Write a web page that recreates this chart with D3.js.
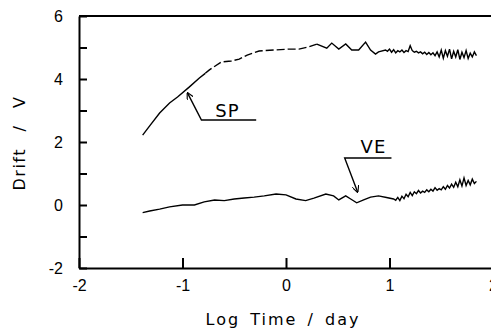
<!DOCTYPE html>
<html>
<head>
<meta charset="utf-8">
<script src="https://cdn.jsdelivr.net/npm/d3@7"></script>
<style>
  body { margin: 0; background: #fff; }
  svg { display: block; font-family: "DejaVu Sans", sans-serif; }
  .axis path, .axis line { stroke: #000; stroke-width: 2; }
  .axis text { font-size: 16px; fill: #000; }
</style>
</head>
<body>
<svg id="chart"></svg>
<script>
var width = 491, height = 329;
var margin = {top: 16, right: -2, bottom: 61, left: 79};

// axis tick values / labels
var xTicks = [-2, -1, 0, 1, 2];
var yTicks = [-2, -1, 0, 1, 2, 3, 4, 5, 6];
var yLabels = [-2, 0, 2, 4, 6];

// SP curve  [log time, drift]
var spSmooth = [[-1.385,2.22],[-1.317,2.51],[-1.221,2.92],[-1.125,3.24],[-1.048,3.43],
  [-0.933,3.75],[-0.837,4.03],[-0.78,4.18]];
var spDashed = [[-0.78,4.18],[-0.74,4.29],[-0.625,4.54],[-0.529,4.57],[-0.452,4.63],[-0.375,4.76],
  [-0.26,4.89],[-0.115,4.92],[0.029,4.95],[0.125,4.95],[0.221,5.02],[0.298,5.11]];
var spNoisy = [[0.298,5.11],[0.394,4.98],[0.442,5.14],[0.51,4.95],[0.577,5.11],[0.635,4.92],
  [0.702,4.92],[0.769,5.17],[0.817,4.92],[0.865,4.79],[0.894,4.86],[0.962,4.92],
  [0.98,4.88],[1.00,4.95],[1.02,4.85],[1.04,4.93],[1.06,4.83],[1.08,4.90],[1.10,4.86],
  [1.12,4.92],[1.14,4.84],[1.16,4.90],[1.18,4.87],[1.20,5.06],[1.22,4.90],[1.24,4.85],
  [1.26,4.88],[1.28,4.83],[1.30,4.86],[1.32,4.80],[1.34,4.85],[1.36,4.78],[1.38,4.84],
  [1.40,4.77],[1.42,4.83],[1.44,4.74],[1.46,4.86],[1.48,4.70],[1.50,4.92],[1.52,4.66],
  [1.54,4.90],[1.56,4.72],[1.58,4.95],[1.60,4.64],[1.62,4.88],[1.64,4.70],[1.66,4.93],
  [1.68,4.62],[1.70,4.85],[1.72,4.68],[1.74,4.90],[1.76,4.65],[1.78,4.82],[1.80,4.70],
  [1.82,4.86],[1.84,4.74]];

// VE curve
var veData = [[-1.385,-0.24],[-1.317,-0.19],[-1.221,-0.13],[-1.125,-0.06],[-1.0,0.0],
  [-0.885,0.0],[-0.79,0.1],[-0.69,0.16],[-0.596,0.14],[-0.5,0.19],[-0.404,0.22],
  [-0.308,0.25],[-0.21,0.29],[-0.096,0.35],[0.0,0.32],[0.096,0.19],[0.19,0.14],
  [0.27,0.22],[0.385,0.35],[0.46,0.29],[0.51,0.16],[0.577,0.29],[0.625,0.19],
  [0.683,0.07],[0.75,0.16],[0.817,0.25],[0.894,0.29],[0.971,0.24],[1.04,0.19],
  [1.06,0.15],[1.08,0.24],[1.10,0.14],[1.12,0.28],[1.14,0.20],[1.16,0.34],[1.18,0.26],
  [1.20,0.40],[1.22,0.30],[1.24,0.42],[1.26,0.36],[1.28,0.46],[1.30,0.38],[1.32,0.44],
  [1.34,0.40],[1.36,0.48],[1.38,0.42],[1.40,0.50],[1.42,0.44],[1.44,0.55],[1.46,0.47],
  [1.48,0.52],[1.50,0.48],[1.52,0.58],[1.54,0.50],[1.56,0.62],[1.58,0.54],[1.60,0.66],
  [1.62,0.56],[1.64,0.72],[1.66,0.58],[1.68,0.80],[1.70,0.60],[1.72,0.86],[1.74,0.62],
  [1.76,0.78],[1.78,0.64],[1.80,0.82],[1.82,0.68],[1.84,0.75]];

// label callouts: [arrow tip, elbow, end], text anchor
var spCallout = [[-0.952,3.56],[-0.817,2.70],[-0.288,2.70]];
var spText = [-0.683, 2.79];
var veCallout = [[0.692,0.41],[0.567,1.49],[1.019,1.49]];
var veText = [0.721, 1.65];

var svg = d3.select("#chart").attr("width", width).attr("height", height);

var x = d3.scaleLinear().domain([-2, 2]).range([margin.left, width - margin.right]);
var y = d3.scaleLinear().domain([-2, 6]).range([height - margin.bottom, margin.top]);

svg.append("defs").append("marker")
    .attr("id", "arrow").attr("viewBox", "0 0 10 10")
    .attr("refX", 9).attr("refY", 5)
    .attr("markerWidth", 7).attr("markerHeight", 7)
    .attr("markerUnits", "userSpaceOnUse")
    .attr("orient", "auto")
  .append("path").attr("d", "M0,0 L10,5 L0,10").attr("fill", "none")
    .attr("stroke", "#000").attr("stroke-width", 1.6);

// frame: top line
svg.append("line")
    .attr("x1", x(-2)).attr("x2", x(2))
    .attr("y1", y(6)).attr("y2", y(6))
    .attr("stroke", "#000").attr("stroke-width", 2);

var xAxis = d3.axisBottom(x).tickValues(xTicks)
    .tickSizeInner(-10).tickSizeOuter(0).tickPadding(12)
    .tickFormat(d3.format("d"));
svg.append("g").attr("class", "axis")
    .attr("transform", "translate(0," + y(-2) + ")")
    .call(xAxis);

var yAxis = d3.axisLeft(y).tickValues(yTicks)
    .tickSizeInner(-8).tickSizeOuter(0).tickPadding(16)
    .tickFormat(function(d) { return yLabels.includes(d) ? d : ""; });
svg.append("g").attr("class", "axis")
    .attr("transform", "translate(" + x(-2) + ",0)")
    .call(yAxis);

// replace unicode minus with hyphen look
svg.selectAll(".axis text").text(function() { return this.textContent.replace("\u2212", "-"); });

var line = d3.line().x(function(d) { return x(d[0]); }).y(function(d) { return y(d[1]); });

svg.append("path").datum(spSmooth).attr("d", line)
    .attr("fill", "none").attr("stroke", "#000").attr("stroke-width", 1.4);
svg.append("path").datum(spDashed).attr("d", line)
    .attr("fill", "none").attr("stroke", "#000").attr("stroke-width", 1.4)
    .attr("stroke-dasharray", "8,3");
svg.append("path").datum(spNoisy).attr("d", line)
    .attr("fill", "none").attr("stroke", "#000").attr("stroke-width", 1.4);
svg.append("path").datum(veData).attr("d", line)
    .attr("fill", "none").attr("stroke", "#000").attr("stroke-width", 1.4);

// callouts
[[spCallout, spText, "SP"], [veCallout, veText, "VE"]].forEach(function(c) {
  var pts = c[0].slice().reverse();
  svg.append("path").datum(pts).attr("d", line)
      .attr("fill", "none").attr("stroke", "#000").attr("stroke-width", 1.4)
      .attr("marker-end", "url(#arrow)");
  svg.append("text")
      .attr("x", x(c[1][0])).attr("y", y(c[1][1]))
      .attr("font-size", 18).attr("letter-spacing", 1)
      .text(c[2]);
});

// axis titles
svg.append("text")
    .attr("x", (x(-2) + x(2)) / 2 - 3).attr("y", 325)
    .attr("text-anchor", "middle")
    .attr("font-size", 16).attr("letter-spacing", 2).attr("word-spacing", 3)
    .text("Log Time / day");

svg.append("text")
    .attr("transform", "translate(25," + 143 + ") rotate(-90)")
    .attr("text-anchor", "middle")
    .attr("font-size", 16).attr("letter-spacing", 1.5).attr("word-spacing", 10)
    .text("Drift / V");
</script>
</body>
</html>
